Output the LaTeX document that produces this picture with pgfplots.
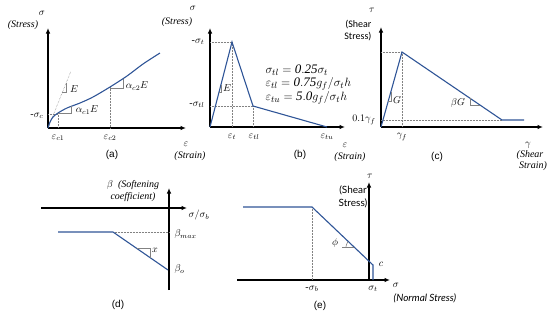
\documentclass[border=0pt]{standalone}
\usepackage{fontspec}
\setmainfont{Liberation Serif}
\newfontfamily\arial{Liberation Sans}
\newfontfamily\calib{Carlito}
\newfontfamily\gill{Lato}
\usepackage{pgfplots}
\pgfplotsset{compat=1.18}
\usetikzlibrary{arrows.meta}
\definecolor{lblue}{RGB}{47,85,151}
\definecolor{tgray}{RGB}{130,130,130}
\begin{document}
\begin{tikzpicture}[x=1pt,y=1pt]
\useasboundingbox (0,0) rectangle (550,317);
\begin{axis}[at={(0,0)},anchor=south west,scale only axis,width=550pt,height=317pt,
  xmin=0,xmax=550,ymin=0,ymax=317,y dir=reverse,hide axis,clip=false,
  ax/.style={black,line width=1.3pt,-{Latex[length=5.5pt,width=4.5pt]}},
  blu/.style={lblue,line width=1.1pt},
  dot/.style={tgray,densely dotted,line width=0.5pt},
  tri/.style={tgray,line width=0.6pt},
  every node/.style={inner sep=0pt,font=\fontsize{11.5}{13}\selectfont}]
% ---------- (a)
\addplot[ax] coordinates {(48,128)(48,28)};
\addplot[ax] coordinates {(48,128)(186,128)};
\addplot[dot] coordinates {(48,128)(71,71)};
\addplot[dot] coordinates {(48,114)(58,114)};
\addplot[dot] coordinates {(58,113)(58,128)};
\addplot[dot] coordinates {(110,87)(110,128)};
\addplot[blu,smooth,tension=0.5] coordinates {(48,128)(50,122)(53,117)(58,113)(67,108)(80,103)(93,97)(110,87)(127,76)(143,64)(160,53)};
\addplot[tri] coordinates {(62,92)(66,92)(66,83)};
\addplot[tri] coordinates {(58,113)(71,113)(71,106)};
\addplot[tri] coordinates {(110,88)(123,88)(123,79)};
\node at (axis cs:42,13) {$\sigma$};
\node at (axis cs:23,25) {\itshape (Stress)};
\node at (axis cs:37,116) {$\mbox{-}\sigma_c$};
\node at (axis cs:74,89) {$E$};
\node at (axis cs:87,110) {$\alpha_{c1}E$};
\node at (axis cs:137,86) {$\alpha_{c2}E$};
\node at (axis cs:58,138) {$\varepsilon_{c1}$};
\node at (axis cs:110,138) {$\varepsilon_{c2}$};
\node at (axis cs:186,144) {$\varepsilon$};
\node at (axis cs:190,156) {\itshape (Strain)};
\node at (axis cs:112,155) {\arial (a)};
% ---------- (b)
\addplot[ax] coordinates {(210,127)(210,28)};
\addplot[ax] coordinates {(210,127)(345,127)};
\addplot[dot] coordinates {(210,42)(232,42)};
\addplot[dot] coordinates {(232,42)(232,127)};
\addplot[dot] coordinates {(210,106)(253,106)};
\addplot[dot] coordinates {(253,106)(253,127)};
\addplot[blu] coordinates {(210,127)(232,42)(253,106)(327,127)};
\addplot[tri] coordinates {(219,92)(221.5,92)(221.5,85)};
\node at (axis cs:193,8) {$\sigma$};
\node at (axis cs:177,22) {\itshape (Stress)};
\node at (axis cs:198,42) {$\mbox{-}\sigma_t$};
\node at (axis cs:197,105) {$\mbox{-}\sigma_{tl}$};
\node at (axis cs:227,88) {$E$};
\node[anchor=west,font=\fontsize{13}{15}\selectfont] at (axis cs:262,70) {$\sigma_{tl}=\mathit{0.25}\sigma_t$};
\node[anchor=west,font=\fontsize{13}{15}\selectfont] at (axis cs:262,84) {$\varepsilon_{tl}=\mathit{0.75}g_f/\sigma_t h$};
\node[anchor=west,font=\fontsize{13}{15}\selectfont] at (axis cs:262,98) {$\varepsilon_{tu}=\mathit{5.0}g_f/\sigma_t h$};
\node at (axis cs:232,137) {$\varepsilon_t$};
\node at (axis cs:254,137) {$\varepsilon_{tl}$};
\node at (axis cs:327,137) {$\varepsilon_{tu}$};
\node at (axis cs:345,145) {$\varepsilon$};
\node at (axis cs:350,157) {\itshape (Strain)};
\node at (axis cs:300,155) {\arial (b)};
% ---------- (c)
\addplot[ax] coordinates {(381,127)(381,27)};
\addplot[ax] coordinates {(381,127)(543,127)};
\addplot[dot] coordinates {(381,52)(402,52)};
\addplot[dot] coordinates {(402,52)(402,127)};
\addplot[dot] coordinates {(381,120)(502,120)};
\addplot[blu] coordinates {(381,127)(402,52)(502,120)(524,120)};
\addplot[tri] coordinates {(388,101)(391,101)(391,92)};
\addplot[tri] coordinates {(470,98)(470,105)(480,105)};
\node at (axis cs:372,10) {$\tau$};
\node[anchor=east] at (axis cs:375,25) {\calib (Shear};
\node[anchor=east] at (axis cs:375,37) {\calib Stress)};
\node[anchor=east] at (axis cs:379,120) {$0.1\gamma_f$};
\node at (axis cs:397,100) {$G$};
\node at (axis cs:402,137) {$\gamma_f$};
\node at (axis cs:458,103) {$\beta G$};
\node at (axis cs:528,145) {$\gamma$};
\node at (axis cs:530,155) {\itshape (Shear};
\node at (axis cs:533,166) {\itshape Strain)};
\node at (axis cs:437,157) {\arial (c)};
% ---------- (d)
\addplot[ax] coordinates {(169,290)(169,188)};
\addplot[ax] coordinates {(41,208)(187,208)};
\addplot[dot] coordinates {(113,232)(169,232)};
\addplot[blu] coordinates {(58,232)(113,232)(168,270)};
\addplot[tri] coordinates {(137,248.5)(150,248.5)(150,257.5)};
\node at (axis cs:133,185) {$\beta$\ \ \itshape (Softening};
\node at (axis cs:133,197) {\itshape coefficient)};
\node at (axis cs:199,215) {$\sigma/\sigma_b$};
\node[anchor=west] at (axis cs:171,234) {$\beta_{max}$};
\node[anchor=west] at (axis cs:171,269) {$\beta_o$};
\node at (axis cs:155,250) {$x$};
\node at (axis cs:118,305) {\arial (d)};
% ---------- (e)
\addplot[ax] coordinates {(369,280)(369,182)};
\addplot[ax] coordinates {(237,280)(390,280)};
\addplot[dot] coordinates {(312,207)(312,280)};
\addplot[blu] coordinates {(243,207)(312,207)(373,265)(373,280)};
\addplot[tri] coordinates {(342,247)(354,247)};
\addplot[tri,smooth] coordinates {(346,247)(346.6,244.2)(348.2,241.5)};
\node at (axis cs:370,176) {$\tau$};
\node at (axis cs:353,190) {\gill (Shear};
\node at (axis cs:353,203) {\gill Stress)};
\node at (axis cs:335,243) {$\phi$};
\node at (axis cs:381,264) {$c$};
\node at (axis cs:312,289) {$\mbox{-}\sigma_b$};
\node at (axis cs:373,289) {$\sigma_t$};
\node at (axis cs:396,285) {$\sigma$};
\node at (axis cs:425,298) {\gill\itshape (Normal Stress)};
\node at (axis cs:320,306) {\arial (e)};
\end{axis}
\end{tikzpicture}
\end{document}
